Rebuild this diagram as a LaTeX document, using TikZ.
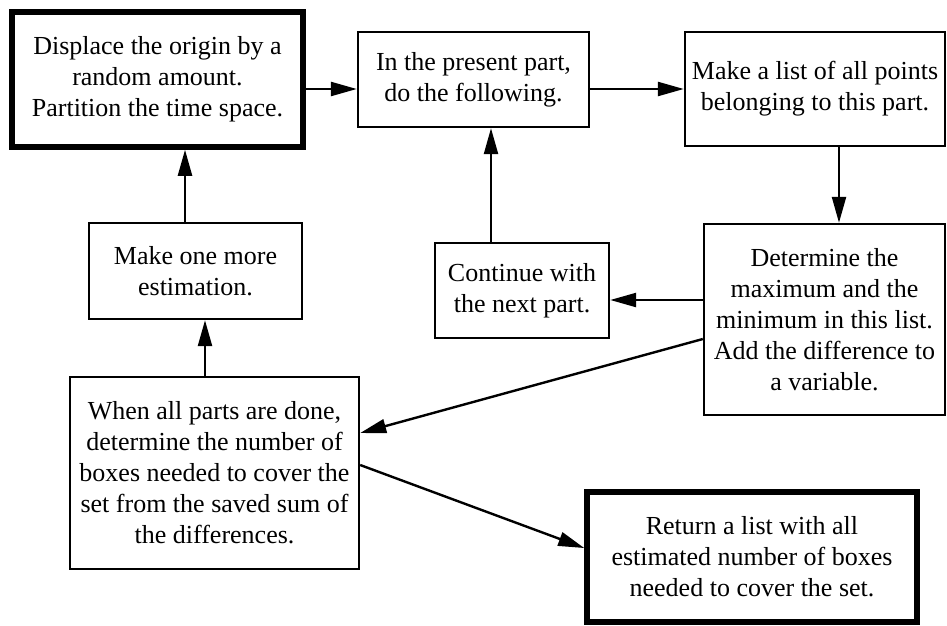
\documentclass[tikz,border=0pt]{standalone}
\usepackage{fontspec}
\setmainfont{Liberation Serif}
\usetikzlibrary{arrows.meta}

\begin{document}
\begin{tikzpicture}[
		x=1pt, y=-1pt,
		>={Triangle[length=26pt,width=14pt]},
		box/.style={
			draw,
			line width=2.4pt,
			inner sep=2pt,
			align=center,
			font=\fontsize{26}{31}\selectfont
		},
		bigbox/.style={box, line width=5.5pt},
		flow/.style={->, line width=2.4pt}
		]
		
		\useasboundingbox (0,0) rectangle (947,625);
		
		%--------------------------------------------------
		% Nodes
		%--------------------------------------------------
		
		\node (displace) [bigbox, minimum width=291pt, minimum height=135pt] at (157.5,79.5)
		{Displace the origin by a\\random amount.\\Partition the time space.};
		
		\node (present) [box, minimum width=231pt, minimum height=95pt] at (473.5,79.5)
		{In the present part,\\do the following.};
		
		\node (list) [box, minimum width=260pt, minimum height=114pt] at (815,89)
		{Make a list of all points\\belonging to this part.};
		
		\node (minmax) [box, minimum width=241pt, minimum height=191pt] at (824.5,319.5)
		{Determine the\\maximum and the\\minimum in this list.\\Add the difference to\\a variable.};
		
		\node (next) [box, minimum width=174pt, minimum height=95pt] at (522,290.5)
		{Continue with\\the next part.};
		
		\node (more) [box, minimum width=213pt, minimum height=96pt] at (195.5,271)
		{Make one more\\estimation.};
		
		\node (count) [box, minimum width=289pt, minimum height=192pt] at (214.5,473)
		{When all parts are done,\\determine the number of\\boxes needed to cover the\\set from the saved sum of\\the differences.};
		
		\node (result) [bigbox, minimum width=330pt, minimum height=130pt] at (752,557)
		{Return a list with all\\estimated number of boxes\\needed to cover the set.};
		
		%--------------------------------------------------
		% Main loop
		%--------------------------------------------------
		
		\draw[flow] (displace.east |- list) -- (present.west |- list);
		
		\draw[flow] (present.east |- list) -- (list.west);
		
		\coordinate (listdown) at ([xshift=14.5pt]minmax.north);
		\draw[flow] (listdown |- list.south) -- (listdown);
		
		\coordinate (minmaxout) at ([yshift=19.5pt]minmax.west);
		\draw[flow] (minmaxout) -- (minmaxout -| next.east);
		
		\coordinate (nextup) at ([xshift=-31pt]next.north);
		\draw[flow] (nextup) -- (nextup |- present.south);
		
		%--------------------------------------------------
		% Outer loop and result
		%--------------------------------------------------
		
		\draw[flow] ([yshift=-19.5pt]minmax.west) -- ([yshift=40pt]count.east);
		
		\draw[flow] ([yshift=8pt]count.east) -- ([yshift=9pt]result.west);
		
		\coordinate (countup) at ([xshift=-9.5pt]count.north);
		\draw[flow] (countup) -- (countup |- more.south);
		
		\coordinate (moreup) at ([xshift=-10.5pt]more.north);
		\draw[flow] (moreup) -- (moreup |- displace.south);
		
	\end{tikzpicture}
\end{document}
